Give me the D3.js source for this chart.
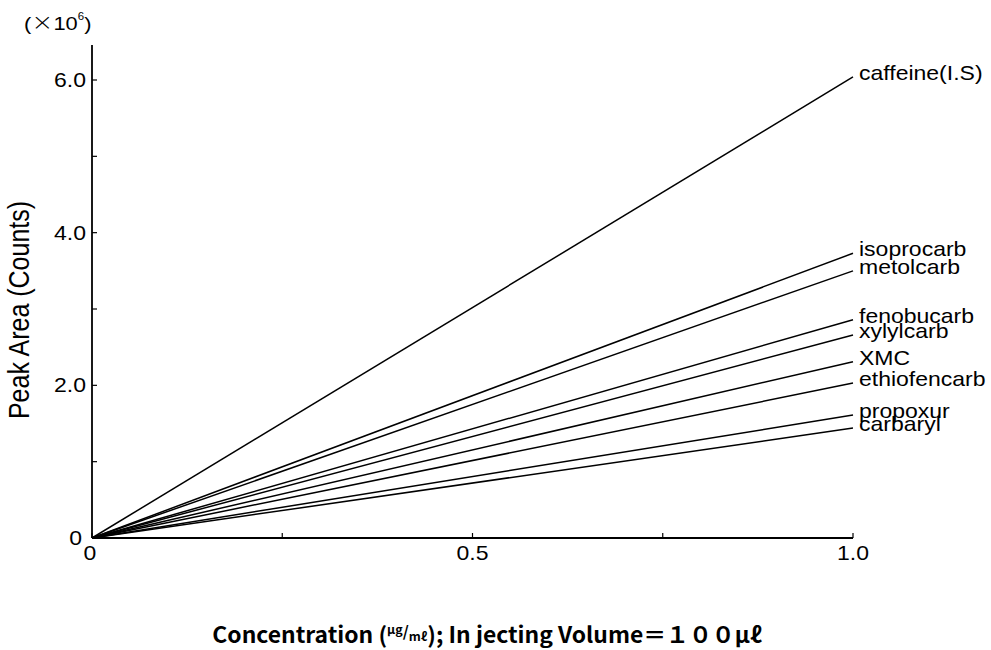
<!DOCTYPE html>
<html><head><meta charset="utf-8">
<script src="https://cdn.jsdelivr.net/npm/d3@7"></script>
<style>body{margin:0;background:#fff}svg{display:block}</style>
</head><body>
<script>
const concentrations = [0, 1.0];
const compounds = ["caffeine(I.S)","isoprocarb","metolcarb","fenobucarb","xylylcarb","XMC","ethiofencarb","propoxur","carbaryl"];
const peakAreaAt1 = [6.04, 3.73, 3.50, 2.86, 2.66, 2.31, 2.03, 1.61, 1.44];
const yMajorTicks = [0, 2.0, 4.0, 6.0];
const yMinorTicks = [1.0, 3.0, 5.0];
const xMajorTicks = [0, 0.5, 1.0];
const xMinorTicks = [0.25, 0.75];

const W = 991, H = 650;
const SX = 1.15; // horizontal stretch of the scanned lettering
const svg = d3.select("body").append("svg").attr("width", W).attr("height", H);
const x = d3.scaleLinear().domain([0, 1.0]).range([92, 853]);
const y = d3.scaleLinear().domain([0, 6.0]).range([538, 80]);
const font = "'Liberation Sans', Arial, sans-serif";

function stext(px, py, anchor, size) {
  return svg.append("g").attr("transform", `translate(${px},${py}) scale(${SX},1)`)
    .append("text").attr("text-anchor", anchor).attr("font-family", font).attr("font-size", size);
}

// axes
const yTop = y(6.46);
svg.append("line").attr("x1", x(0)).attr("x2", x(0)).attr("y1", y(0)).attr("y2", yTop)
  .attr("stroke", "#000").attr("stroke-width", 1.8);
svg.append("line").attr("x1", x(0)).attr("x2", x(1.0)).attr("y1", y(0)).attr("y2", y(0))
  .attr("stroke", "#000").attr("stroke-width", 1.8);

yMajorTicks.concat(yMinorTicks).forEach(v => {
  svg.append("line").attr("x1", x(0)).attr("x2", x(0) + 5).attr("y1", y(v)).attr("y2", y(v))
    .attr("stroke", "#000").attr("stroke-width", 1.2);
});
xMajorTicks.concat(xMinorTicks).forEach(v => {
  svg.append("line").attr("x1", x(v)).attr("x2", x(v)).attr("y1", y(0)).attr("y2", y(0) - 5)
    .attr("stroke", "#000").attr("stroke-width", 1.2);
});

yMajorTicks.forEach(v => {
  if (v === 0) stext(x(0) - 10, y(v) + 7, "end", 20).text("0");
  else stext(x(0) - 6, y(v) + 7, "end", 20).text(v.toFixed(1));
});
xMajorTicks.forEach(v => {
  stext(v === 0 ? x(v) - 2 : x(v), y(0) + 22, "middle", 20).text(v === 0 ? "0" : v.toFixed(1));
});

// lines
const line = d3.line().x(d => x(d[0])).y(d => y(d[1]));
compounds.forEach((name, i) => {
  const pts = concentrations.map(c => [c, c * peakAreaAt1[i]]);
  svg.append("path").attr("d", line(pts)).attr("fill", "none")
    .attr("stroke", "#000").attr("stroke-width", 1.5);
  stext(x(1.0) + 6, y(peakAreaAt1[i]) + 3, "start", 20).text(name);
});

// multiplier
const mult = stext(24, 30, "start", 19);
mult.append("tspan").text("(");
mult.append("tspan").attr("font-size", 23).attr("font-family", "'DejaVu Sans', sans-serif").attr("font-weight", 300).text("×");
mult.append("tspan").text("10");
mult.append("tspan").attr("font-size", 10).attr("dy", -10).text("6");
mult.append("tspan").attr("dy", 10).text(")");

// y title
svg.append("g").attr("transform", `translate(29,310) scale(${SX},1) rotate(-90)`)
  .append("text").attr("text-anchor", "middle").attr("font-family", font).attr("font-size", 25)
  .text("Peak Area (Counts)");

// x title
const xt = svg.append("g").attr("transform", `translate(487,643) scale(1.04,1)`).append("text")
  .attr("text-anchor", "middle")
  .attr("font-family", "'Noto Sans CJK JP', sans-serif").attr("font-weight", "bold").attr("font-size", 22);
xt.append("tspan").text("Concentration (");
xt.append("tspan").attr("font-size", 12).attr("dy", -9).text("μg");
xt.append("tspan").attr("font-size", 15).attr("dy", 3).text("/");
xt.append("tspan").attr("font-size", 12).attr("dy", 4).text("mℓ");
xt.append("tspan").attr("dy", 2).text("); In jecting Volume＝１００μℓ");
</script>
</body></html>
